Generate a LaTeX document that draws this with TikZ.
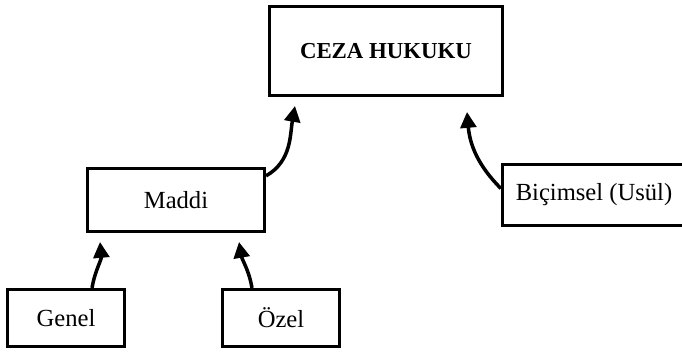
\documentclass[tikz,border=0pt]{standalone}
\usepackage{fontspec}
\setmainfont{Liberation Serif}
\usepackage{tikz}
\usetikzlibrary{positioning,arrows.meta}

\tikzset{
  kutu/.style={draw, line width=1.8pt, minimum width=#1, font=\fontsize{14}{16}\selectfont},
  ok/.style={-{Triangle[length=9pt,width=9pt]}, line width=2pt}
}

\begin{document}
\begin{tikzpicture}
                    \useasboundingbox (0,0) rectangle (13.64,7.04);

                    % Draw the boxes
                    \node[kutu=4.66cm, minimum height=1.78cm, font=\fontsize{13}{15}\selectfont\bfseries] (ceza) at (7.72,6.02) {CEZA HUKUKU};
                    \node[kutu=3.54cm, minimum height=1.26cm] (maddi) at (3.52,3.04) {Maddi};
                    \node[kutu=3.66cm, minimum height=1.22cm] (bicimsel) at (11.88,3.14) {Biçimsel (Usül)};
                    \node[kutu=2.34cm, minimum height=1.14cm] (genel) at (1.32,0.68) {Genel};
                    \node[kutu=2.34cm, minimum height=1.14cm] (ozel) at (5.62,0.68) {Özel};

                    % Arrow ends
                    \coordinate (m2c) at (5.9,4.92);
                    \coordinate (b2c) at (9.34,4.8);
                    \coordinate (g2m) at (2.0,2.2);
                    \coordinate (o2m) at (4.78,2.2);

                    % Draw the arrows
                    \draw[ok] (maddi.15) to[out=30,in=-100] (m2c);
                    \draw[ok] (bicimsel.176) to[out=135,in=-85] (b2c);
                    \draw[ok] (genel.north) ++(0.52,0) to[out=80,in=-85] (g2m);
                    \draw[ok] (ozel.north) ++(-0.58,0) to[out=100,in=-80] (o2m);

                  \end{tikzpicture}
\end{document}
